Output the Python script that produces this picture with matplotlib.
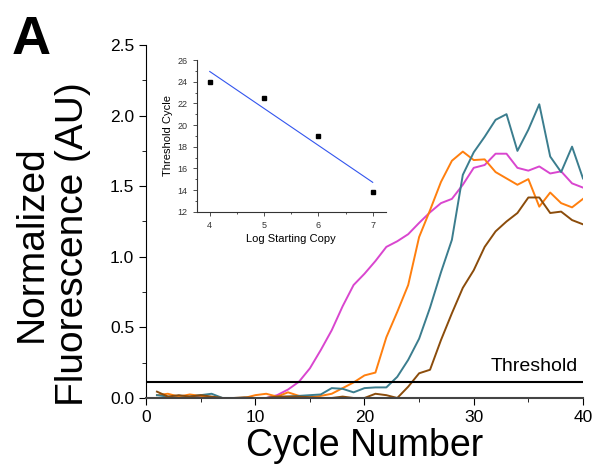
import matplotlib
matplotlib.use("Agg")
import matplotlib.pyplot as plt
import numpy as np
from matplotlib.ticker import MultipleLocator

plt.rcParams['font.family'] = ['Liberation Sans', 'DejaVu Sans']

cycles = np.arange(1, 41)

# amplification curves (normalized fluorescence), one value per cycle
magenta = [0.0, 0.0, 0.005, 0.0, 0.01, 0.005, 0.0, 0.0, 0.0, 0.0,
           0.0, 0.02, 0.06, 0.115, 0.21, 0.34, 0.48, 0.65, 0.80, 0.88,
           0.97, 1.07, 1.11, 1.16, 1.24, 1.315, 1.38, 1.41, 1.51, 1.63,
           1.65, 1.73, 1.73, 1.63, 1.61, 1.64, 1.59, 1.605, 1.52, 1.49]
orange = [0.02, 0.03, 0.01, 0.025, 0.015, 0.005, 0.0, 0.0, 0.0, 0.02,
          0.03, 0.01, 0.04, 0.015, 0.005, 0.015, 0.03, 0.07, 0.11, 0.16,
          0.18, 0.43, 0.61, 0.80, 1.14, 1.33, 1.53, 1.68, 1.745, 1.685,
          1.69, 1.60, 1.555, 1.51, 1.55, 1.355, 1.455, 1.38, 1.35, 1.41]
teal = [0.02, 0.01, 0.0, 0.01, 0.02, 0.03, 0.0, 0.0, 0.0, 0.0,
        0.0, 0.005, 0.01, 0.015, 0.02, 0.025, 0.07, 0.065, 0.04, 0.07,
        0.075, 0.075, 0.15, 0.27, 0.42, 0.64, 0.89, 1.12, 1.58, 1.74,
        1.85, 1.97, 2.01, 1.75, 1.90, 2.08, 1.71, 1.60, 1.78, 1.555]
brown = [0.045, 0.01, 0.02, 0.01, 0.02, 0.01, 0.0, 0.0, 0.005, 0.0,
         0.0, 0.01, 0.01, 0.01, 0.005, 0.0, 0.0, 0.01, 0.0, 0.0,
         0.03, 0.02, 0.0, 0.08, 0.175, 0.20, 0.41, 0.60, 0.78, 0.905,
         1.07, 1.18, 1.25, 1.31, 1.42, 1.42, 1.31, 1.32, 1.26, 1.23]
threshold = 0.115

# standard curve inset
log_copy = [4, 5, 6, 7]
ct = [24.0, 22.5, 19.0, 13.8]

fig = plt.figure(figsize=(5.97, 4.70), dpi=100)
ax = fig.add_axes([0.2446, 0.1532, 0.7319, 0.7511])

ax.plot(cycles, magenta, color="#d946cf", lw=1.4)
ax.plot(cycles, orange, color="#ff7f0e", lw=1.4)
ax.plot(cycles, teal, color="#3b7d8e", lw=1.4)
ax.plot(cycles, brown, color="#8b4c0b", lw=1.4)
ax.axhline(threshold, color="black", lw=1.5)
ax.text(39.5, threshold + 0.05, "Threshold", ha="right", va="bottom", fontsize=14)

ax.set_xlim(0, 40)
ax.set_ylim(0, 2.5)
ax.xaxis.set_major_locator(MultipleLocator(10))
ax.xaxis.set_minor_locator(MultipleLocator(5))
ax.yaxis.set_major_locator(MultipleLocator(0.5))
ax.yaxis.set_minor_locator(MultipleLocator(0.25))
ax.yaxis.set_major_formatter(matplotlib.ticker.FormatStrFormatter("%.1f"))
ax.tick_params(which="both", direction="out", labelsize=12.5)
ax.tick_params(which="major", length=5)
ax.tick_params(which="minor", length=3)
ax.spines["top"].set_visible(False)
ax.spines["right"].set_visible(False)
ax.spines["bottom"].set_color("#444444")
ax.spines["bottom"].set_linewidth(1.5)
ax.set_xlabel("Cycle Number", fontsize=27, labelpad=2)
fig.text(0.088, 1 - 244 / 470, "Normalized\nFluorescence (AU)", rotation=90,
         ha="center", va="center", fontsize=28, linespacing=1.2,
         multialignment="center")
fig.text(0.02, 1 - 54 / 470, "A", fontsize=39, fontweight="bold")

# inset
ins = fig.add_axes([0.3295, 0.5496, 0.3171, 0.3227])
ins.plot(log_copy, ct, "s", color="black", ms=2.8)
slope, icpt = np.polyfit(log_copy, ct, 1)
xs = np.array([log_copy[0], log_copy[-1]])
ins.plot(xs, slope * xs + icpt, color="#3355ee", lw=0.8)
ins.set_xlim(3.76, 7.245)
ins.set_ylim(12, 26)
ins.xaxis.set_major_locator(MultipleLocator(1))
ins.xaxis.set_minor_locator(MultipleLocator(0.5))
ins.yaxis.set_major_locator(MultipleLocator(2))
ins.yaxis.set_minor_locator(MultipleLocator(1))
ins.tick_params(which="both", direction="out", labelsize=6.5, width=0.6, colors="#333333")
ins.tick_params(which="major", length=3)
ins.tick_params(which="minor", length=1.5)
ins.spines["top"].set_visible(False)
ins.spines["right"].set_visible(False)
for s in ("left", "bottom"):
    ins.spines[s].set_linewidth(0.8)
    ins.spines[s].set_color("#333333")
ins.set_xlabel("Log Starting Copy", fontsize=8, labelpad=3)
ins.set_ylabel("Threshold Cycle", fontsize=8, labelpad=3)

fig.savefig("out.png", dpi=100)
